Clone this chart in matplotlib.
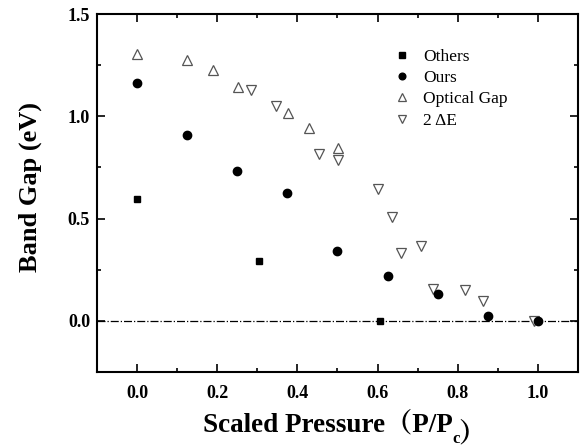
import matplotlib
matplotlib.use("Agg")
import matplotlib.pyplot as plt
from matplotlib.ticker import MultipleLocator

plt.rcParams['font.family'] = ['Liberation Serif', 'Noto Serif CJK SC', 'Noto Sans CJK SC', 'DejaVu Sans']

others_x = [0.0, 0.305, 0.607]
others_y = [0.596, 0.293, 0.0]

ours_x = [0.0, 0.125, 0.25, 0.375, 0.5, 0.625, 0.75, 0.875, 1.0]
ours_y = [1.165, 0.909, 0.733, 0.625, 0.342, 0.22, 0.132, 0.022, 0.0]

optical_x = [0.0, 0.124, 0.189, 0.251, 0.376, 0.428, 0.502]
optical_y = [1.305, 1.275, 1.228, 1.143, 1.018, 0.943, 0.843]

de_x = [0.284, 0.346, 0.455, 0.502, 0.602, 0.637, 0.659, 0.709, 0.739, 0.818, 0.863, 0.99]
de_y = [1.13, 1.05, 0.816, 0.787, 0.645, 0.508, 0.332, 0.366, 0.156, 0.151, 0.098, 0.0]

fig = plt.figure(figsize=(5.86, 4.48), dpi=100)
ax = fig.add_axes([0.1655, 0.1696, 0.8208, 0.7991])

ax.axhline(0, color='black', lw=0.9, ls='-.', zorder=1)

ax.plot(others_x, others_y, 's', color='black', ms=5, ls='none', label='Others', zorder=3)
ax.plot(ours_x, ours_y, 'o', color='black', ms=6, ls='none', label='Ours', zorder=3)
ax.plot(optical_x, optical_y, '^', mfc='white', mec='#555555', mew=0.9, ms=7,
        ls='none', label='Optical Gap', zorder=2)
ax.plot(de_x, de_y, 'v', mfc='white', mec='#555555', mew=0.9, ms=7,
        ls='none', label='2 ΔE', zorder=2)

ax.set_xlim(-0.1, 1.1)
ax.set_ylim(-0.25, 1.5)
ax.xaxis.set_major_locator(MultipleLocator(0.2))
ax.xaxis.set_minor_locator(MultipleLocator(0.1))
ax.yaxis.set_major_locator(MultipleLocator(0.5))
ax.yaxis.set_minor_locator(MultipleLocator(0.25))
ax.tick_params(which='both', direction='in', top=True, right=True, width=1.2)
ax.tick_params(which='major', length=6, labelsize=13)
ax.tick_params(axis='x', which='major', pad=9)
ax.tick_params(axis='y', which='major', pad=5)
ax.tick_params(which='minor', length=3)
for lab in ax.get_xticklabels() + ax.get_yticklabels():
    lab.set_fontweight('bold')
for s in ax.spines.values():
    s.set_linewidth(1.5)

ax.set_ylabel('Band Gap (eV)', fontsize=19, fontweight='bold')
ax.yaxis.set_label_coords(-0.114, 0.517)

# x label built from pieces so the subscript c sits under the full-width brackets
t1 = fig.text(0.346, 0.036, 'Scaled Pressure（P/P', fontsize=19.5, fontweight='bold',
              ha='left', va='baseline')
t2 = ax.annotate('c', xy=(1, 0), xycoords=t1, xytext=(0, -3.5), textcoords='offset points',
                 fontsize=12, fontweight='bold', ha='left', va='baseline',
                 annotation_clip=False)
ax.annotate('）', xy=(1, 0), xycoords=t2, xytext=(-1, 3.5), textcoords='offset points',
            fontsize=19.5, fontweight='bold', ha='left', va='baseline', annotation_clip=False)

ax.legend(loc='upper left', bbox_to_anchor=(0.58, 0.947), frameon=False,
          handletextpad=0.6, labelspacing=0.3, handlelength=1.2, markerscale=0.8,
          prop={'size': 12.5})

fig.savefig('out.png', dpi=100)
